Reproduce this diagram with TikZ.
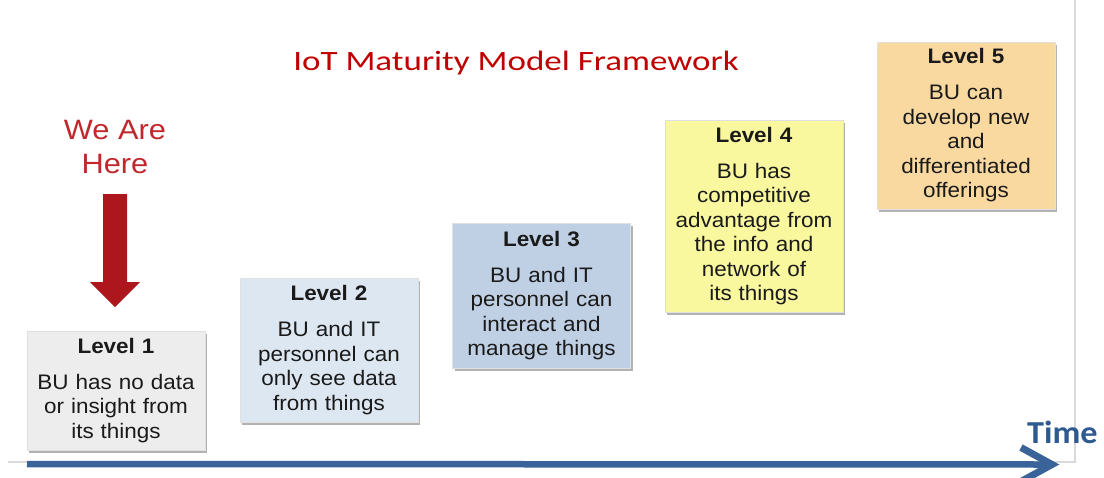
\documentclass[tikz,border=0pt]{standalone}
\usepackage{fontspec}
\setmainfont{Liberation Sans}
\newfontfamily\boxfont[FakeStretch=1.07]{Liberation Sans}
\newfontfamily\herefont[FakeStretch=1.1]{Liberation Sans}
\newfontfamily\titlefont[FakeStretch=1.25]{Carlito}
\newfontfamily\timefont[FakeStretch=1.07]{Carlito}
\usetikzlibrary{shadows,calc}
\definecolor{titlered}{HTML}{C00000}
\definecolor{herered}{HTML}{C0282E}
\definecolor{arrowred}{HTML}{AC161C}
\definecolor{timeblue}{HTML}{3A6499}
\definecolor{timetext}{HTML}{2E5A90}
\definecolor{framegray}{HTML}{D9D9D9}
\definecolor{fillA}{HTML}{EDEDED}
\definecolor{fillB}{HTML}{DDE7F1}
\definecolor{fillC}{HTML}{C0D0E4}
\definecolor{fillD}{HTML}{F9F89E}
\definecolor{fillE}{HTML}{F9D9A0}
\definecolor{boxtext}{HTML}{1A1A1A}
\tikzset{
  levelbox/.style={rectangle, inner sep=0pt, minimum width=178pt, text width=172pt,
    align=center, text=boxtext, draw=black!12, line width=0.4pt,
    font=\boxfont\fontsize{21pt}{24.5pt}\selectfont,
    drop shadow={shadow xshift=2pt, shadow yshift=-2.5pt, fill=black, opacity=0.3}},
  timeline/.style={draw=timeblue, line width=6.5pt},
  framelines/.style={draw=framegray, line width=1.2pt}
}
\newcommand{\lvl}[1]{\textbf{#1}\\[11.5pt]}
\begin{document}
\begin{tikzpicture}[x=1pt, y=-1pt]
\useasboundingbox (0,0) rectangle (1104,477);
\fill[white] (0,0) rectangle (1104,477);

% slide frame
\coordinate (fa) at (8,462);
\coordinate (fb) at (1075,462);
\coordinate (fc) at (1075,0);
\draw[framelines] (fa) -- (fb) -- (fc);

% title
\node[anchor=base, text=titlered, font=\titlefont\fontsize{28pt}{30pt}\selectfont] (title) at (516,70) {IoT Maturity Model Framework};

% we are here
\node[align=center, text=herered, inner sep=0pt, font=\herefont\fontsize{28pt}{34pt}\selectfont] (here) at (115,147.5) {We Are\\Here};
\fill[arrowred] (103,194) -- (127,194) -- (127,282) -- (140,282) -- (115,307) -- (90,282) -- (103,282) -- cycle;

% level boxes
\node[levelbox, fill=fillA, minimum height=119pt] (l1) at (116,390.5)
  {\lvl{Level 1}BU has no data\\or insight from\\its things};
\node[levelbox, fill=fillB, minimum height=144pt] (l2) at (329,350)
  {\lvl{Level 2}BU and IT\\personnel can\\only see data\\from things};
\node[levelbox, fill=fillC, minimum height=145pt] (l3) at (541.5,295.5)
  {\lvl{Level 3}BU and IT\\personnel can\\interact and\\manage things};
\node[levelbox, fill=fillD, minimum height=192pt] (l4) at (754,216)
  {\lvl{Level 4}BU has\\competitive\\advantage from\\the info and\\network of\\its things};
\node[levelbox, fill=fillE, minimum height=167pt] (l5) at (966,125.5)
  {\lvl{Level 5}BU can\\develop new\\and\\differentiated\\offerings};

% time axis
\coordinate (t0) at (27,464);
\coordinate (t1) at (1052,464.5);
\draw[timeline] (t0) -- ($(t1)+(-6,0)$);
\draw[timeline, line width=7pt, line join=miter] ($(t1)+(-31,-17)$) -- (t1) -- ($(t1)+(-31,17)$);
\node[anchor=base west, inner sep=0pt, text=timetext, font=\timefont\bfseries\fontsize{32pt}{34pt}\selectfont] (time) at (1027,443) {Time};
\end{tikzpicture}
\end{document}
